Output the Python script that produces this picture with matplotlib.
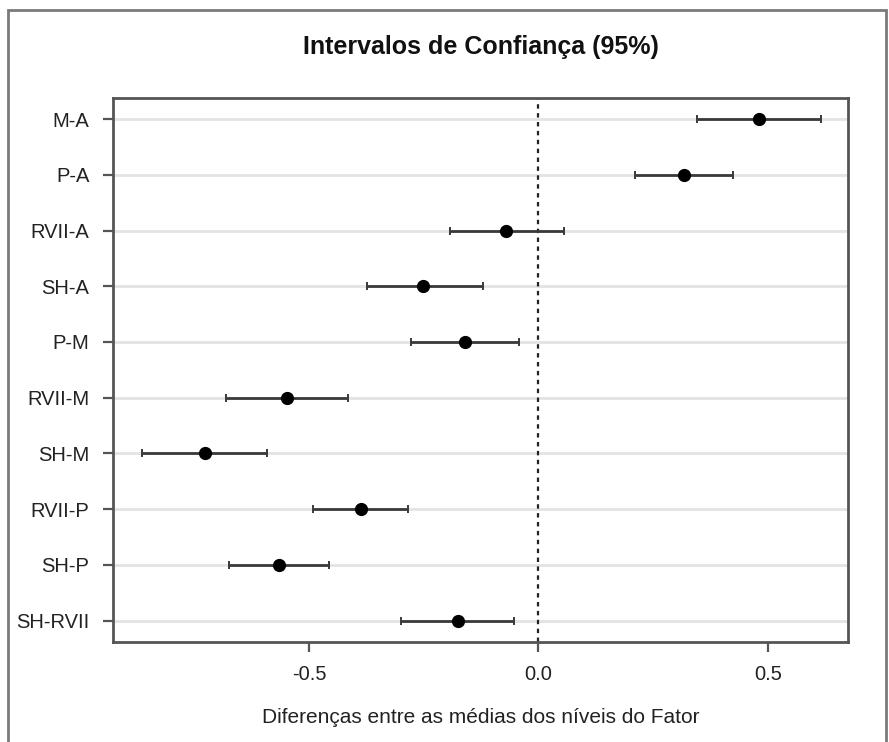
from matplotlib import pyplot as plt
from matplotlib.patches import Rectangle
import numpy as np

# Pairwise comparisons (95% intervals for the difference of means)
comparisons = ['M-A', 'P-A', 'RVII-A', 'SH-A', 'P-M',
               'RVII-M', 'SH-M', 'RVII-P', 'SH-P', 'SH-RVII']
diff = [0.481, 0.318, -0.070, -0.251, -0.160,
        -0.548, -0.727, -0.387, -0.565, -0.176]
lower = [0.346, 0.210, -0.193, -0.374, -0.278,
         -0.680, -0.863, -0.491, -0.675, -0.299]
upper = [0.617, 0.425, 0.055, -0.120, -0.042,
         -0.414, -0.591, -0.284, -0.456, -0.054]
x_ticks = [-0.5, 0.0, 0.5]
x_tick_labels = ['-0.5', '0.0', '0.5']

plt.rcParams['font.family'] = ['Liberation Sans', 'DejaVu Sans']

diff = np.array(diff)
lower = np.array(lower)
upper = np.array(upper)
n = len(comparisons)
# first comparison on top
ypos = np.arange(n, 0, -1)

fig = plt.figure(figsize=(8.89, 7.42), dpi=100)
ax = fig.add_axes([0.1271, 0.1352, 0.8268, 0.7327])

# outer frame around the whole device
fig.patches.append(Rectangle((0.009, -0.05), 0.988, 1.036,
                             transform=fig.transFigure, fill=False,
                             edgecolor='#7a7a7a', linewidth=2))

for y in ypos:
    ax.axhline(y, color='#e3e3e3', linewidth=2, zorder=0)

ax.axvline(0, color='#222222', linewidth=1.6, linestyle=(0, (2, 2)), zorder=1)

ax.errorbar(diff, ypos, xerr=[diff - lower, upper - diff],
            fmt='none', ecolor='#3a3a3a', elinewidth=2,
            capsize=3, capthick=1.4, zorder=2)
ax.plot(diff, ypos, 'o', color='black', markersize=8.5, zorder=3)

ax.set_xlim(-0.927, 0.675)
ax.set_ylim(0.62, n + 0.38)
ax.set_yticks(ypos)
ax.set_yticklabels(comparisons)
ax.set_xticks(x_ticks)
ax.set_xticklabels(x_tick_labels)

for side in ['top', 'right', 'bottom', 'left']:
    ax.spines[side].set_color('#555555')
    ax.spines[side].set_linewidth(2)
ax.tick_params(axis='both', colors='#555555', width=1.6, length=7,
               labelsize=14.5, labelcolor='#222222')
ax.tick_params(axis='y', pad=10)
ax.tick_params(axis='x', pad=10)

ax.set_xlabel('Diferenças entre as médias dos níveis do Fator',
              fontsize=15, color='#222222', labelpad=17)
fig.text(0.5405, 0.937, 'Intervalos de Confiança (95%)', ha='center',
         va='center', fontsize=18, fontweight='bold', color='#111111')

fig.savefig('out.png', dpi=100)
